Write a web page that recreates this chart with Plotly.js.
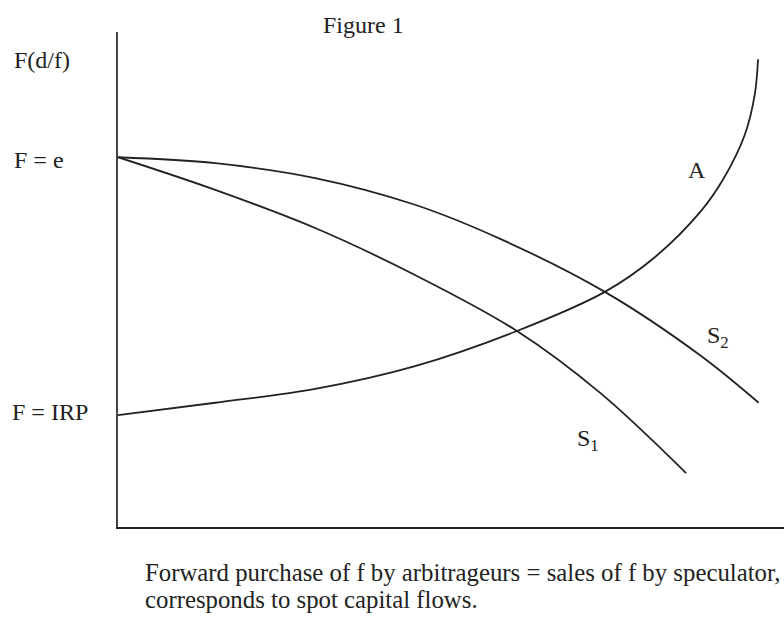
<!DOCTYPE html>
<html>
<head>
<meta charset="utf-8">
<script src="https://cdn.plot.ly/plotly-3.0.1.min.js"></script>
<style>html,body{margin:0;padding:0;background:#fff}#chart{width:784px;height:623px}</style>
</head>
<body>
<div id="chart"></div>
<script>
// Curve A (arbitrageurs)
const aX = [0, 14.6, 29.6, 44.6, 59.9, 73.1, 80.6, 87.4, 90.8, 94.1, 95.6, 96.1];
const aY = [22.6, 25.1, 27.9, 32.5, 39.6, 47.5, 54.5, 63.6, 70.1, 79.2, 87.3, 94.5];
// Curve S1 (speculators)
const s1X = [0, 14.6, 29.6, 44.6, 59.9, 72.4, 85.3];
const s1Y = [74.7, 68.1, 60.4, 50.9, 39.6, 27.1, 10.9];
// Curve S2 (speculators)
const s2X = [0, 14.6, 29.6, 44.6, 57.4, 73.1, 87.4, 96.2];
const s2Y = [74.7, 73.5, 70.5, 65.1, 58.2, 47.5, 34.7, 25.1];

const lineStyle = {color: '#222', width: 1.8, shape: 'spline', smoothing: 1};
const traces = [
  {x: aX, y: aY, mode: 'lines', line: lineStyle, hoverinfo: 'skip'},
  {x: s1X, y: s1Y, mode: 'lines', line: lineStyle, hoverinfo: 'skip'},
  {x: s2X, y: s2Y, mode: 'lines', line: lineStyle, hoverinfo: 'skip'}
];

const serifFont = (size) => ({family: 'Liberation Serif, Times New Roman, serif', size: size, color: '#222'});
const ann = (text, x, y, xref, yref, xanchor, size) => ({
  text, x, y, xref, yref, xanchor: xanchor || 'center', yanchor: 'middle',
  showarrow: false, font: serifFont(size || 24)
});

const layout = {
  width: 784, height: 623,
  margin: {l: 118, r: 0, t: 32, b: 96},
  paper_bgcolor: '#fff', plot_bgcolor: '#fff',
  showlegend: false,
  xaxis: {range: [0, 100], showline: true, linecolor: '#222', linewidth: 2,
          showgrid: false, zeroline: false, showticklabels: false, ticks: '', fixedrange: true},
  yaxis: {range: [0, 100], showline: true, linecolor: '#444', linewidth: 2.5,
          showgrid: false, zeroline: false, showticklabels: false, ticks: '', fixedrange: true},
  annotations: [
    ann('Figure 1', 0.369, 1.014, 'paper', 'paper'),
    ann('F(d/f)', -0.159, 0.943, 'paper', 'paper', 'left'),
    ann('F = e', -0.159, 0.741, 'paper', 'paper', 'left'),
    ann('F = IRP', -0.162, 0.232, 'paper', 'paper', 'left'),
    ann('A', 86.9, 72.1, 'x', 'y'),
    ann('S<sub>2</sub>', 90.1, 38.4, 'x', 'y'),
    ann('S<sub>1</sub>', 70.6, 17.6, 'x', 'y'),
    ann('Forward purchase of f by arbitrageurs = sales of f by speculator,', 0.0375, -0.091, 'paper', 'paper', 'left', 24.8),
    ann('corresponds to spot capital flows.', 0.0375, -0.147, 'paper', 'paper', 'left', 24.8)
  ]
};

Plotly.newPlot('chart', traces, layout, {displayModeBar: false, staticPlot: true});
</script>
</body>
</html>
